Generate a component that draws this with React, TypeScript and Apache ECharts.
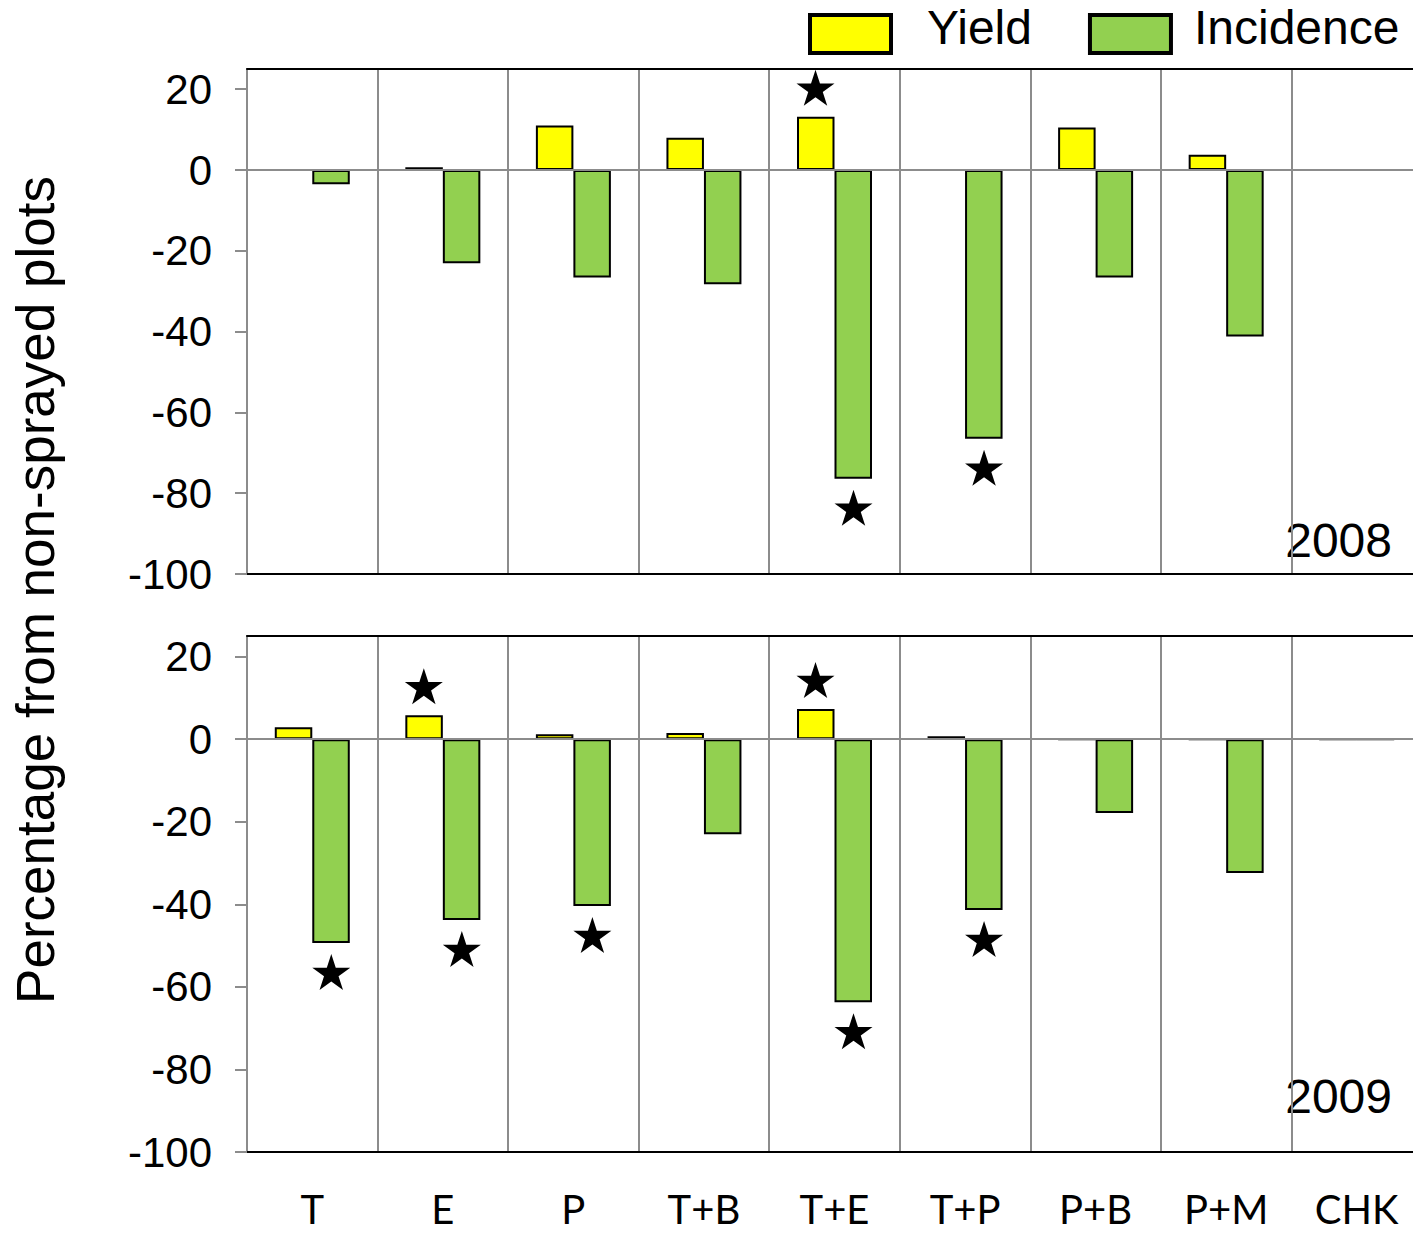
import React, { useEffect, useRef } from "react";
import * as echarts from "echarts";

// Treatments along the x axis
const categories = ["T", "E", "P", "T+B", "T+E", "T+P", "P+B", "P+M", "CHK"];

// Percentage change relative to non-sprayed plots
const yield2008 = [0, 0.7, 11.0, 8.0, 13.2, 0, 10.5, 3.8, 0];
const incidence2008 = [-3.5, -23.1, -26.6, -28.3, -76.4, -66.5, -26.6, -41.2, 0];
const yield2009 = [2.9, 5.8, 1.2, 1.5, 7.3, 0.7, 0, 0, 0];
const incidence2009 = [-49.4, -43.8, -40.4, -23.0, -63.7, -41.4, -17.9, -32.4, 0];

// Treatments marked as significant
const yieldStars2008 = ["T+E"];
const incidenceStars2008 = ["T+E", "T+P"];
const yieldStars2009 = ["E", "T+E"];
const incidenceStars2009 = ["T", "E", "P", "T+E", "T+P"];

// Value axis ticks
const yTicks = [-100, -80, -60, -40, -20, 0, 20];
const yMin = -100;
const yMax = 25;

const years = ["2008", "2009"];

const STAR =
  "path://M50,0 L61.2,34.5 L97.6,34.5 L68.2,55.9 L79.4,90.5 L50,69.1 L20.6,90.5 L31.8,55.9 L2.4,34.5 L38.8,34.5 Z";

// Legend swatch: a rectangle sitting a little below the text's middle
const SWATCH = "path://M0,-13 L0,-13 M0,0 L81,0 L81,38 L0,38 Z";

const ARIAL = '"Liberation Sans", Arial, sans-serif';
const GRAY = "#8c8c8c";

const starData = (names: string[], values: number[]) =>
  names.map((n) => [n, values[categories.indexOf(n)]]);

export default function App() {
  const ref = useRef<HTMLDivElement>(null);

  useEffect(() => {
    if (!ref.current) return;
    const chart = echarts.init(ref.current, null, { renderer: "svg" });

    const grids = [
      { left: 247, top: 69, right: 0, height: 505 },
      { left: 247, top: 636, right: 0, height: 516 },
    ];

    const xAxes: any[] = [];
    const yAxes: any[] = [];
    grids.forEach((_, i) => {
      // bottom axis with category dividers
      xAxes.push({
        type: "category",
        gridIndex: i,
        data: categories,
        position: "bottom",
        boundaryGap: true,
        axisLine: { onZero: false, lineStyle: { color: "#000", width: 2 } },
        axisTick: { show: false },
        axisLabel: {
          show: i === 1,
          color: "#000",
          fontFamily: "Lato, sans-serif",
          fontSize: 40,
          lineHeight: 36,
          margin: 39,
          interval: 0,
        },
        splitLine: { show: true, lineStyle: { color: GRAY, width: 2 } },
      });
      // top border line
      xAxes.push({
        type: "category",
        gridIndex: i,
        data: categories,
        position: "top",
        axisLine: { onZero: false, lineStyle: { color: "#000", width: 2 } },
        axisTick: { show: false },
        axisLabel: { show: false },
        splitLine: { show: false },
      });
      yAxes.push({
        type: "value",
        gridIndex: i,
        min: yMin,
        max: yMax,
        interval: 20,
        axisLine: { show: true, lineStyle: { color: GRAY, width: 2 } },
        axisTick: {
          show: true,
          length: 12,
          lineStyle: { color: GRAY, width: 2 },
          customValues: yTicks,
        },
        axisLabel: {
          color: "#000",
          fontFamily: ARIAL,
          fontSize: 42,
          margin: 35,
          customValues: yTicks,
        },
        splitLine: { show: false },
      });
    });

    const yearData = [
      { y: yield2008, inc: incidence2008, ys: yieldStars2008, is: incidenceStars2008 },
      { y: yield2009, inc: incidence2009, ys: yieldStars2009, is: incidenceStars2009 },
    ];

    const series: any[] = [];
    yearData.forEach((d, i) => {
      series.push({
        name: "Yield",
        type: "bar",
        xAxisIndex: i * 2,
        yAxisIndex: i,
        data: d.y,
        barWidth: 37.5,
        barGap: "0%",
        itemStyle: { color: "#ffff00", borderColor: "#000", borderWidth: 2 },
      });
      series.push({
        name: "Incidence",
        type: "bar",
        xAxisIndex: i * 2,
        yAxisIndex: i,
        data: d.inc,
        barWidth: 37.5,
        barGap: "0%",
        itemStyle: { color: "#92d050", borderColor: "#000", borderWidth: 2 },
        markLine: {
          silent: true,
          symbol: ["none", "none"],
          label: { show: false },
          lineStyle: { color: GRAY, width: 2, type: "solid" },
          data: [{ yAxis: 0 }],
        },
      });
      series.push({
        name: "yieldStars",
        type: "scatter",
        xAxisIndex: i * 2,
        yAxisIndex: i,
        data: starData(d.ys, d.y),
        symbol: STAR,
        symbolSize: [38, 36],
        symbolOffset: [-19, -29],
        itemStyle: { color: "#000", opacity: 1 },
        z: 5,
      });
      series.push({
        name: "incidenceStars",
        type: "scatter",
        xAxisIndex: i * 2,
        yAxisIndex: i,
        data: starData(d.is, d.inc),
        symbol: STAR,
        symbolSize: [38, 36],
        symbolOffset: [19, 29],
        itemStyle: { color: "#000", opacity: 1 },
        z: 5,
      });
    });

    chart.setOption({
      animation: false,
      backgroundColor: "#fff",
      grid: grids,
      xAxis: xAxes,
      yAxis: yAxes,
      series,
      legend: {
        data: [
          { name: "Yield", textStyle: { padding: [0, 0, 0, 31] } },
          { name: "Incidence", textStyle: { padding: [0, 0, 0, 18] } },
        ],
        left: 808,
        top: 0,
        padding: 0,
        itemWidth: 81,
        itemHeight: 51,
        itemGap: 56,
        icon: SWATCH,
        itemStyle: { borderColor: "#000", borderWidth: 4 },
        textStyle: {
          color: "#000",
          fontFamily: ARIAL,
          fontSize: 48,
        },
        selectedMode: false,
      },
      graphic: [
        {
          type: "text",
          x: 35,
          y: 590,
          rotation: Math.PI / 2,
          style: {
            text: "Percentage from non-sprayed plots",
            fontFamily: ARIAL,
            fontSize: 53,
            fill: "#000",
            align: "center",
            verticalAlign: "middle",
          },
        },
        ...years.map((yr, i) => ({
          type: "text",
          x: 1392,
          y: i === 0 ? 540 : 1096,
          style: {
            text: yr,
            fontFamily: ARIAL,
            fontSize: 48,
            fill: "#000",
            align: "right",
            verticalAlign: "middle",
          },
        })),
      ],
    });

    return () => chart.dispose();
  }, []);

  return (
    <div
      ref={ref}
      style={{ position: "fixed", left: 0, top: 0, width: 1422, height: 1233 }}
    />
  );
}
